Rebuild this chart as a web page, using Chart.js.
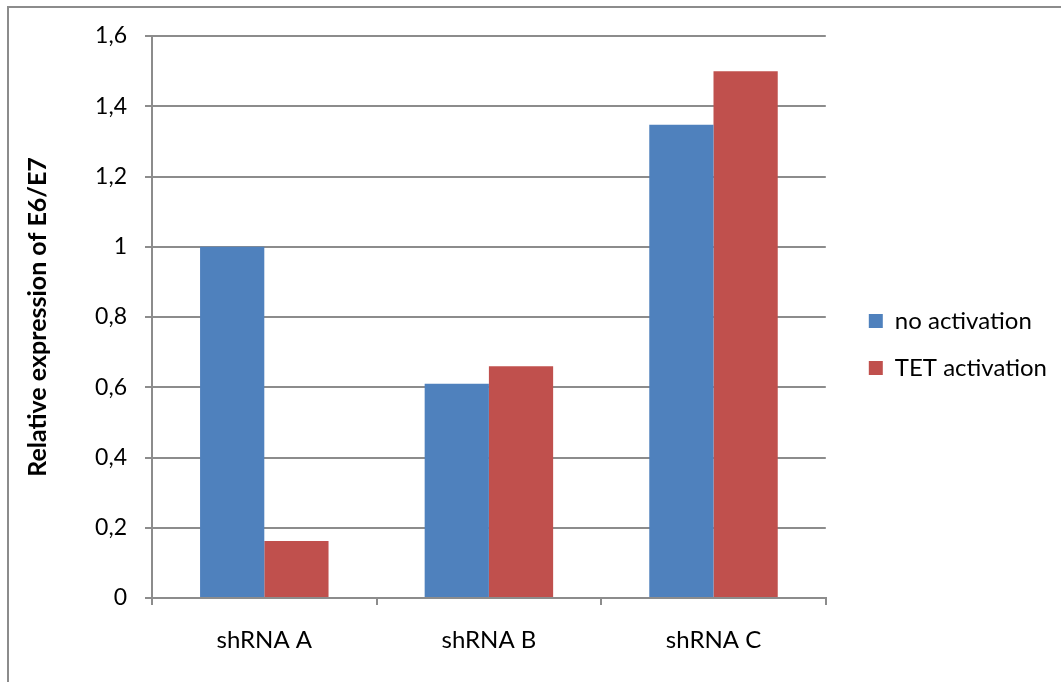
<!DOCTYPE html>
<html>
<head>
<meta charset="utf-8">
<script src="https://cdn.jsdelivr.net/npm/chart.js@4/dist/chart.umd.min.js"></script>
<style>
  html, body { margin: 0; padding: 0; background: #fff; overflow: hidden; }
  #wrap { position: relative; width: 1061px; height: 682px; overflow: hidden; }
  #frame { position: absolute; left: 7px; top: 6px; width: 1100px; height: 720px;
           border: 2px solid #8c8c8c; box-sizing: border-box; }
  #c { position: absolute; left: 0; top: 0; }
</style>
</head>
<body>
<div id="wrap">
  <div id="frame"></div>
  <canvas id="c" width="1061" height="682"></canvas>
</div>
<script>
// Relative expression of E6/E7 per shRNA, with and without TET activation
const categories = ['shRNA A', 'shRNA B', 'shRNA C'];
const seriesNames = ['no activation', 'TET activation'];
const noActivation = [1.0, 0.61, 1.347];
const tetActivation = [0.162, 0.66, 1.5];
const yAxisTitle = 'Relative expression of E6/E7';

const FONT = 'Lato, "Open Sans", "DejaVu Sans", sans-serif';
const GRID = '#8c8c8c';

// decimal comma tick labels: 0, 0,2 ... 1 ... 1,6
function commaLabel(v) {
  const r = Math.round(v * 10) / 10;
  return String(r).replace('.', ',');
}

new Chart(document.getElementById('c'), {
  type: 'bar',
  data: {
    labels: categories,
    datasets: [
      { label: seriesNames[0], data: noActivation, backgroundColor: '#4f81bd', borderWidth: 0 },
      { label: seriesNames[1], data: tetActivation, backgroundColor: '#c0504d', borderWidth: 0 }
    ]
  },
  options: {
    responsive: false,
    animation: false,
    categoryPercentage: 0.572,
    barPercentage: 1.0,
    layout: { padding: { left: 20, top: 36, right: 4, bottom: 29 } },
    plugins: {
      tooltip: { enabled: false },
      legend: {
        position: 'right',
        maxWidth: 400,
        labels: {
          boxWidth: 14, boxHeight: 14, padding: 23, color: '#000',
          font: { family: FONT, size: 24 }
        }
      }
    },
    scales: {
      x: {
        grid: { display: true, drawOnChartArea: false, offset: true, tickLength: 7, color: GRID, lineWidth: 2 },
        border: { color: GRID, width: 2 },
        ticks: { color: '#000', padding: 21, font: { family: FONT, size: 24 } },
        afterFit: s => { s.height = 682 - 598 - 29; }
      },
      y: {
        min: 0, max: 1.6,
        grid: { color: GRID, lineWidth: 2, tickLength: 7 },
        border: { color: GRID, width: 2 },
        ticks: { stepSize: 0.2, padding: 18, color: '#000', font: { family: FONT, size: 23 },
                 callback: v => commaLabel(v) },
        title: { display: true, text: yAxisTitle, color: '#000',
                 font: { family: FONT, size: 25, weight: 'bold' }, padding: { top: 3, bottom: 0 } },
        afterFit: s => { s.width = 132; }
      },
      gap: {
        type: 'linear', position: 'right', display: true,
        ticks: { display: false }, grid: { display: false }, border: { display: false },
        afterFit: s => { s.width = 20; }
      }
    }
  }
});
</script>
</body>
</html>
